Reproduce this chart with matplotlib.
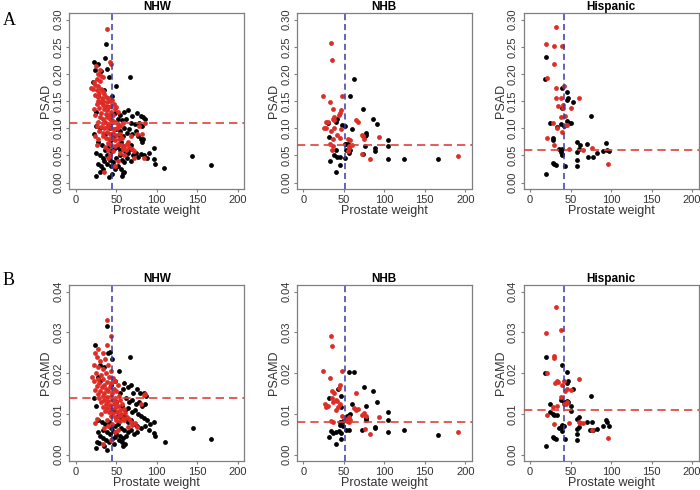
import matplotlib
matplotlib.use("Agg")
from matplotlib import pyplot as plt

plt.rcParams['font.family'] = ['Liberation Sans', 'DejaVu Sans']

# группы и пороги
groups = ["NHW", "NHB", "Hispanic"]
vline_weight = [45, 51, 42]          # синяя вертикальная линия (вес простаты)
hline_psad = [0.11, 0.07, 0.06]      # красная горизонтальная линия PSAD
hline_psamd = [0.014, 0.008, 0.011]  # красная горизонтальная линия PSAMD

x_ticks = [0, 50, 100, 150, 200]
psad_ticks = [0.00, 0.05, 0.10, 0.15, 0.20, 0.25, 0.30]
psamd_ticks = [0.00, 0.01, 0.02, 0.03, 0.04]

# ---- NHW, PSAD ----
nhw_psad_red = [
    (38.6, 0.283), (42, 0.223), (43, 0.219), (25, 0.214), (29.5, 0.208), (27, 0.20), (31, 0.197),
    (34, 0.195), (26, 0.19), (22, 0.185), (30, 0.188), (24, 0.18), (28, 0.178), (19, 0.174),
    (21, 0.172), (26, 0.17), (31, 0.172), (33, 0.168), (29, 0.165), (35, 0.163), (24, 0.162),
    (27, 0.158), (32, 0.156), (37, 0.157), (40, 0.155), (28, 0.15), (30, 0.148), (34, 0.15),
    (38, 0.148), (42, 0.15), (45, 0.152), (26, 0.145), (33, 0.143), (36, 0.142), (40, 0.14),
    (44, 0.142), (47, 0.145), (50, 0.14), (29, 0.138), (35, 0.135), (22, 0.135), (39, 0.133),
    (43, 0.131), (48, 0.135), (52, 0.13), (31, 0.128), (37, 0.127), (41, 0.125), (46, 0.124),
    (24, 0.125), (30, 0.12), (34, 0.118), (38, 0.12), (42, 0.118), (45, 0.116), (28, 0.112),
    (33, 0.11), (36, 0.112), (40, 0.108), (44, 0.11), (48, 0.112), (52, 0.108), (26, 0.105),
    (31, 0.103), (35, 0.1), (39, 0.102), (43, 0.1), (47, 0.098), (51, 0.1), (55, 0.105),
    (58, 0.11), (29, 0.095), (34, 0.092), (38, 0.094), (42, 0.09), (46, 0.092), (50, 0.088),
    (54, 0.09), (33, 0.085), (37, 0.083), (41, 0.08), (45, 0.082), (49, 0.078), (53, 0.08),
    (57, 0.083), (40, 0.073), (44, 0.07), (48, 0.068), (52, 0.072), (56, 0.07), (60, 0.068),
    (63, 0.072), (58, 0.062), (62, 0.06), (66, 0.065), (70, 0.062), (72, 0.058), (85, 0.11),
    (78, 0.105), (82, 0.09), (75, 0.09), (68, 0.085), (65, 0.075), (28, 0.08), (24, 0.085),
    (26, 0.07), (40, 0.045), (42, 0.05), (60, 0.05), (35, 0.02), (48, 0.03), (52, 0.04),
    (46, 0.058), (36, 0.065), (84, 0.045), (72, 0.045), (40, 0.06), (55, 0.055),
]
nhw_psad_black = [
    (37.8, 0.256), (36, 0.229), (23, 0.222), (27.4, 0.219), (24, 0.208), (31.5, 0.205), (38, 0.209),
    (67, 0.195), (49.4, 0.178), (21, 0.185), (41, 0.195), (27, 0.16), (35, 0.17), (45, 0.16),
    (40, 0.14), (32, 0.148), (25, 0.13), (48, 0.128), (55, 0.125), (60, 0.13), (65, 0.133),
    (70, 0.122), (75, 0.128), (80, 0.122), (83, 0.12), (85, 0.118), (62, 0.118), (57, 0.115),
    (68, 0.11), (73, 0.108), (78, 0.11), (82, 0.105), (52, 0.118), (45, 0.112), (42, 0.1),
    (50, 0.098), (55, 0.095), (60, 0.1), (63, 0.092), (66, 0.098), (70, 0.09), (74, 0.095),
    (77, 0.085), (80, 0.08), (83, 0.081), (82, 0.075), (58, 0.085), (53, 0.088), (47, 0.085),
    (44, 0.078), (36, 0.09), (30, 0.1), (25, 0.105), (28, 0.075), (23, 0.09), (32, 0.07),
    (36, 0.06), (40, 0.065), (43, 0.058), (47, 0.062), (51, 0.065), (55, 0.06), (58, 0.068),
    (61, 0.058), (64, 0.055), (67, 0.062), (71, 0.05), (74, 0.055), (77, 0.048), (80, 0.052),
    (84, 0.05), (88, 0.045), (96, 0.063), (97, 0.043), (109, 0.027), (144, 0.049), (167, 0.032),
    (25, 0.055), (30, 0.05), (33, 0.045), (38, 0.05), (42, 0.042), (46, 0.038), (50, 0.045),
    (54, 0.05), (57, 0.042), (60, 0.038), (63, 0.045), (68, 0.04), (28, 0.035), (31, 0.03),
    (35, 0.04), (39, 0.035), (44, 0.03), (48, 0.025), (52, 0.03), (56, 0.025), (60, 0.02),
    (25, 0.012), (40.7, 0.01), (58, 0.017), (57, 0.012), (30, 0.02), (45, 0.015), (34, 0.025),
    (98, 0.035), (90, 0.055), (68, 0.07), (56, 0.075),
]

# ---- NHB, PSAD ----
nhb_psad_red = [
    (34.4, 0.258), (35.7, 0.226), (24.8, 0.160), (48, 0.160), (33.5, 0.149), (37, 0.136),
    (46, 0.134), (45, 0.128), (44, 0.124), (37.8, 0.121), (38.5, 0.116), (36.5, 0.118),
    (28.6, 0.112), (26, 0.10), (28, 0.10), (38, 0.10), (34, 0.095), (65, 0.115), (67, 0.112),
    (72, 0.088), (74, 0.085), (75, 0.08), (93, 0.084), (82, 0.044), (72, 0.052), (33, 0.072),
    (37, 0.068), (37, 0.08), (45, 0.082), (55, 0.08), (58, 0.078), (56, 0.068), (57, 0.064),
    (55, 0.058), (35, 0.06), (191.5, 0.049), (42, 0.088), (60, 0.07), (30, 0.112), (47, 0.098),
]
nhb_psad_black = [
    (51, 0.105), (48, 0.107), (74, 0.135), (62.6, 0.19), (58, 0.16), (86, 0.118), (91, 0.108),
    (77, 0.092), (77, 0.087), (76, 0.085), (105, 0.078), (105, 0.068), (105, 0.044), (124, 0.044),
    (89, 0.064), (89, 0.058), (76, 0.068), (74, 0.053), (32, 0.084), (51, 0.072), (53, 0.072),
    (55, 0.072), (53, 0.06), (58, 0.06), (40.5, 0.061), (38, 0.05), (42, 0.048), (45, 0.047),
    (33, 0.04), (45, 0.032), (41, 0.02), (52, 0.045), (166, 0.044), (42, 0.118), (40, 0.112),
    (60, 0.098), (56, 0.055), (31, 0.11),
]

# ---- Hispanic, PSAD ----
his_psad_red = [
    (32.5, 0.287), (20, 0.256), (30, 0.251), (39, 0.251), (30, 0.218), (21, 0.192), (32.5, 0.175),
    (42, 0.178), (32.5, 0.156), (38.5, 0.155), (60, 0.156), (51, 0.137), (41, 0.143), (41, 0.137),
    (35, 0.141), (38, 0.12), (43, 0.123), (28, 0.109), (46, 0.106), (44, 0.107), (33, 0.1),
    (21, 0.082), (30, 0.07), (48, 0.062), (65, 0.06), (76, 0.064), (96, 0.034), (40, 0.093),
]
his_psad_black = [
    (20, 0.231), (18.5, 0.19), (40, 0.175), (45.5, 0.166), (47, 0.155), (46, 0.153), (53, 0.148),
    (40, 0.137), (75, 0.123), (24, 0.109), (38, 0.108), (42, 0.105), (45, 0.113), (48, 0.11),
    (50, 0.109), (33, 0.102), (28, 0.083), (28, 0.078), (36, 0.062), (40, 0.062), (38, 0.057),
    (39, 0.053), (40, 0.05), (58, 0.074), (62, 0.07), (70, 0.072), (60, 0.062), (58, 0.057),
    (94, 0.073), (95, 0.06), (97, 0.059), (90, 0.059), (82, 0.055), (72, 0.048), (78, 0.048),
    (58, 0.041), (58, 0.03), (43, 0.031), (28, 0.036), (30, 0.034), (32, 0.032), (20, 0.015),
]

# ---- NHW, PSAMD ----
nhw_psamd_red = [
    (39, 0.033), (43, 0.029), (38, 0.027), (28, 0.026), (24, 0.025), (33, 0.025), (26, 0.024),
    (30, 0.023), (36, 0.0235), (22, 0.022), (28, 0.0215), (33, 0.021), (40, 0.022), (44, 0.0205),
    (25, 0.02), (31, 0.0195), (37, 0.02), (20, 0.019), (27, 0.0185), (34, 0.0185), (41, 0.019),
    (46, 0.0188), (23, 0.018), (29, 0.0175), (35, 0.0172), (39, 0.0178), (44, 0.0175), (49, 0.018),
    (26, 0.0168), (32, 0.0165), (37, 0.0162), (42, 0.0165), (47, 0.0162), (52, 0.017), (24, 0.0158),
    (30, 0.0155), (35, 0.0152), (40, 0.0155), (45, 0.0152), (50, 0.0155), (27, 0.0148), (33, 0.0145),
    (38, 0.0142), (43, 0.0145), (48, 0.014), (53, 0.0145), (29, 0.0138), (35, 0.0135), (40, 0.0132),
    (45, 0.0135), (50, 0.013), (55, 0.0135), (31, 0.0128), (37, 0.0125), (42, 0.0122), (47, 0.0125),
    (52, 0.012), (57, 0.0125), (34, 0.0118), (39, 0.0115), (44, 0.0112), (49, 0.0115), (54, 0.011),
    (59, 0.0112), (36, 0.0108), (41, 0.0105), (46, 0.0102), (51, 0.0105), (56, 0.01), (61, 0.0102),
    (43, 0.0095), (48, 0.0092), (53, 0.0095), (58, 0.009), (63, 0.0093), (66, 0.0088), (50, 0.0085),
    (55, 0.0082), (60, 0.0085), (68, 0.008), (73, 0.0077), (70, 0.0072), (75, 0.0068), (84, 0.0146),
    (86, 0.0148), (80, 0.0125), (45, 0.0075), (40, 0.007), (35, 0.0065), (26, 0.0088), (24, 0.0078),
    (33, 0.0025), (43, 0.0035), (52, 0.006), (64, 0.0068), (48, 0.0055), (38, 0.0085), (31, 0.01),
]
nhw_psamd_black = [
    (38.5, 0.0315), (23.7, 0.027), (40, 0.025), (42, 0.0253), (67, 0.024), (53, 0.0205), (35, 0.0215),
    (30, 0.022), (45, 0.0235), (27, 0.019), (48, 0.018), (44, 0.017), (58, 0.016), (60, 0.0175),
    (64, 0.0165), (68, 0.017), (71, 0.015), (75, 0.016), (79, 0.015), (84, 0.015), (87, 0.0145),
    (55, 0.015), (62, 0.014), (66, 0.013), (70, 0.0135), (74, 0.0125), (78, 0.013), (82, 0.012),
    (86, 0.0125), (50, 0.013), (57, 0.012), (61, 0.011), (65, 0.0115), (69, 0.0105), (73, 0.011),
    (77, 0.01), (81, 0.0095), (84, 0.009), (88, 0.0085), (47, 0.011), (52, 0.0095), (56, 0.009),
    (60, 0.0095), (64, 0.008), (68, 0.0085), (72, 0.0075), (76, 0.007), (80, 0.0065), (85, 0.007),
    (90, 0.006), (96, 0.0052), (98, 0.0045), (110, 0.003), (145, 0.0066), (167, 0.0039), (25, 0.012),
    (22, 0.014), (28, 0.0085), (32, 0.008), (36, 0.0075), (41, 0.008), (44, 0.0065), (48, 0.007),
    (52, 0.0075), (56, 0.0065), (60, 0.006), (64, 0.0055), (68, 0.006), (72, 0.005), (76, 0.0055),
    (34, 0.006), (38, 0.0055), (42, 0.005), (46, 0.0058), (50, 0.005), (54, 0.0045), (58, 0.004),
    (62, 0.0045), (27, 0.0055), (30, 0.0045), (33, 0.004), (37, 0.0035), (41, 0.003), (45, 0.0038),
    (49, 0.0042), (53, 0.0035), (57, 0.003), (61, 0.0025), (26, 0.0032), (29, 0.0028), (35, 0.0022),
    (25, 0.0015), (39, 0.0012), (58, 0.002), (47, 0.0025), (97, 0.008), (92, 0.0075), (63, 0.0085),
    (30, 0.018),
]

# ---- NHB, PSAMD ----
nhb_psamd_red = [
    (33.6, 0.0292), (35.7, 0.0266), (24.8, 0.0206), (47.7, 0.0206), (33.5, 0.0188), (45, 0.0171),
    (44, 0.0163), (36, 0.0155), (38, 0.015), (35, 0.014), (40, 0.0135), (42, 0.0132), (65, 0.0152),
    (27, 0.0125), (28, 0.0117), (30, 0.012), (37, 0.0128), (40, 0.011), (43, 0.0118), (45, 0.0125),
    (62, 0.0115), (65, 0.011), (68, 0.0112), (73, 0.0098), (75, 0.0101), (77, 0.0095), (93, 0.0093),
    (51, 0.0088), (54, 0.0082), (56, 0.008), (58, 0.0085), (57, 0.0092), (34, 0.0082), (37, 0.008),
    (76, 0.0063), (82, 0.005), (191.5, 0.0055), (48, 0.0095),
]
nhb_psamd_black = [
    (57, 0.0204), (63, 0.0204), (43, 0.0162), (32, 0.0138), (46, 0.0144), (75, 0.0165), (86, 0.0155),
    (91, 0.013), (47, 0.0116), (54, 0.0095), (56, 0.0097), (58, 0.0099), (77, 0.012), (105, 0.0105),
    (105, 0.0085), (78, 0.009), (78, 0.0085), (45, 0.008), (49, 0.0082), (49, 0.007), (45, 0.0072),
    (89, 0.0068), (89, 0.0065), (73, 0.006), (105, 0.0055), (124, 0.006), (34, 0.0058), (37, 0.0053),
    (41, 0.0055), (44, 0.0057), (47, 0.0053), (32, 0.0044), (47, 0.0038), (40, 0.0025), (53, 0.006),
    (57, 0.006), (166, 0.0049), (60, 0.0125),
]

# ---- Hispanic, PSAMD ----
his_psamd_red = [
    (32.5, 0.0363), (20, 0.0299), (38.5, 0.0305), (30, 0.0242), (30, 0.0237), (21, 0.02), (31, 0.0175),
    (33, 0.018), (34, 0.0178), (42, 0.018), (60, 0.0185), (39, 0.017), (51, 0.0158), (43, 0.0155),
    (45, 0.016), (38.5, 0.0142), (42, 0.0125), (46, 0.0128), (44, 0.0123), (28, 0.0117), (33, 0.012),
    (21, 0.0097), (30, 0.0076), (48, 0.0078), (60, 0.008), (62, 0.0078), (65, 0.0077), (76, 0.006),
    (96, 0.004),
]
his_psamd_black = [
    (20, 0.024), (18.5, 0.02), (40, 0.022), (46, 0.0202), (47, 0.018), (46, 0.0175), (53, 0.016),
    (38, 0.0135), (42, 0.013), (45, 0.0132), (47, 0.013), (50, 0.012), (24, 0.0123), (25, 0.0105),
    (28, 0.01), (30, 0.0098), (33, 0.0098), (50, 0.0107), (75, 0.0144), (60, 0.0092), (58, 0.0087),
    (70, 0.008), (76, 0.008), (74, 0.006), (78, 0.006), (94, 0.0085), (95, 0.008), (97, 0.007),
    (90, 0.007), (82, 0.0063), (36, 0.0066), (38, 0.0068), (40, 0.0072), (42, 0.007), (40, 0.0058),
    (58, 0.0062), (60, 0.0068), (58, 0.005), (58, 0.0037), (43, 0.0038), (28, 0.0043), (30, 0.004),
    (32, 0.0038), (20, 0.002),
]

psad_black = [nhw_psad_black, nhb_psad_black, his_psad_black]
psad_red = [nhw_psad_red, nhb_psad_red, his_psad_red]
psamd_black = [nhw_psamd_black, nhb_psamd_black, his_psamd_black]
psamd_red = [nhw_psamd_red, nhb_psamd_red, his_psamd_red]

RED = '#de2d26'
GREY = '#7f7f7f'
col_left = [0.099, 0.424, 0.748]
row_bottom = [0.614, 0.059]
W, H = 0.250, 0.359


def panel(ax, black, red, xv, yh, ylab, ticks, ylim, title):
    ax.scatter([p[0] for p in black], [p[1] for p in black], s=12, color='black', linewidths=0, zorder=2)
    ax.scatter([p[0] for p in red], [p[1] for p in red], s=12, color=RED, linewidths=0, zorder=3)
    ax.axvline(xv, color='#3b3ba5', lw=1.1, dashes=(4, 2.5), zorder=4)
    ax.axhline(yh, color='#e0413b', lw=1.2, dashes=(5, 3), zorder=4)
    ax.set_xlim(-8, 208)
    ax.set_ylim(*ylim)
    ax.set_xticks(x_ticks)
    ax.set_yticks(ticks)
    ax.set_yticklabels(['%.2f' % t for t in ticks], rotation=90, va='center')
    for s in ax.spines.values():
        s.set_color(GREY)
        s.set_linewidth(0.9)
    ax.tick_params(colors=GREY, labelcolor='#333333', labelsize=8, length=2.5, width=0.8, pad=1.5)
    ax.set_xlabel("Prostate weight", fontsize=9, color='#333333', labelpad=0.5)
    ax.set_ylabel(ylab, fontsize=9, color='#333333', labelpad=1)
    ax.set_title(title, fontsize=8.5, fontweight='bold', pad=2.5)


fig = plt.figure(figsize=(7, 4.9), dpi=100)
for i in range(3):
    ax = fig.add_axes([col_left[i], row_bottom[0], W, H])
    panel(ax, psad_black[i], psad_red[i], vline_weight[i], hline_psad[i], "PSAD",
          psad_ticks, (-0.012, 0.312), groups[i])
    ax = fig.add_axes([col_left[i], row_bottom[1], W, H])
    panel(ax, psamd_black[i], psamd_red[i], vline_weight[i], hline_psamd[i], "PSAMD",
          psamd_ticks, (-0.0016, 0.0416), groups[i])

fig.text(0.004, 0.975, "A", fontsize=13, family=['Liberation Serif', 'DejaVu Serif'], va='top')
fig.text(0.004, 0.445, "B", fontsize=13, family=['Liberation Serif', 'DejaVu Serif'], va='top')

fig.savefig("out.png", dpi=100)
